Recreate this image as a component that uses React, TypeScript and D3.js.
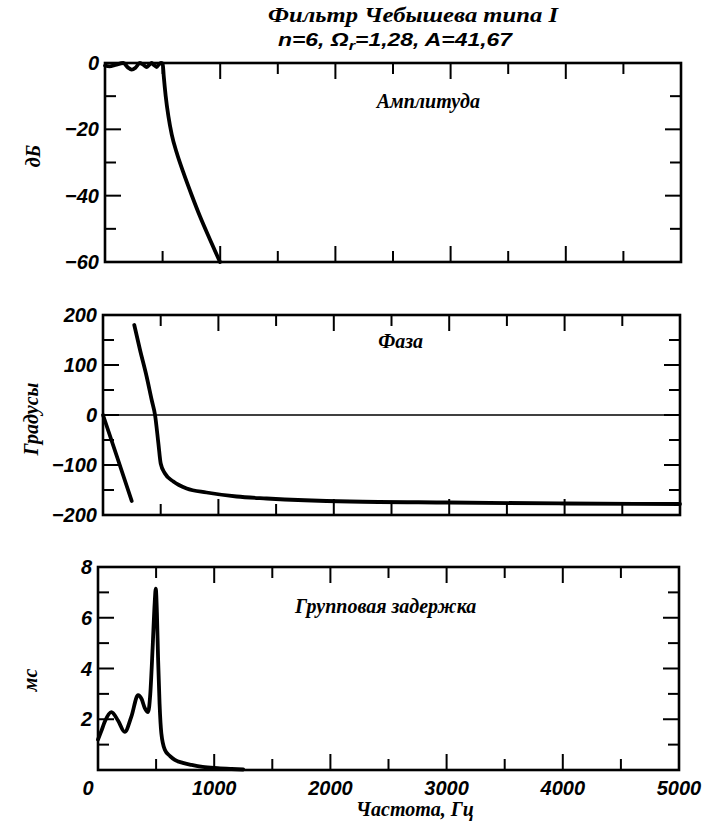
import React from "react";
import * as d3 from "d3";

// ---------- data ----------
const ampFreq = [0, 40, 90, 159, 200, 231, 265, 303, 335, 361, 385, 405, 425, 448, 468, 485, 501, 510, 527, 550, 579, 622, 680, 752, 825, 911, 998];
const ampDb = [-0.8, -1.0, -0.6, 0, -1.4, -2.0, -1.4, 0, -0.6, -1.2, -0.5, 0, -0.6, -1.2, -0.4, 0, -0.2, -4, -10, -16, -21.5, -27, -33, -39.8, -46.3, -53.2, -60];

const phase1Freq = [0, 125, 249];
const phase1Deg = [0, -86, -172];

const phase2Freq = [271, 321, 378, 422, 451, 480, 500, 537, 610, 725, 898, 1158, 1418, 2140, 3000, 4000, 5000];
const phase2Deg = [180, 130, 77, 30, 0, -57, -97, -117, -133, -147, -155, -163, -167, -173, -175, -177, -178];

const delayFreq = [0, 30, 58, 115, 172, 230, 287, 345, 375, 402, 431, 450, 470, 488, 497, 507, 517, 530, 545, 575, 620, 661, 730, 805, 900, 1030, 1150, 1250];
const delayMs = [1.2, 1.55, 1.9, 2.28, 1.95, 1.5, 2.1, 2.95, 2.8, 2.45, 2.28, 3.0, 4.8, 6.6, 7.15, 6.2, 4.4, 2.6, 1.45, 0.8, 0.55, 0.4, 0.28, 0.2, 0.12, 0.07, 0.04, 0.02];

const freqTicks = [0, 500, 1000, 1500, 2000, 2500, 3000, 3500, 4000, 4500, 5000];
const freqLabels = [0, 1000, 2000, 3000, 4000, 5000];

const ampTicks = [0, -10, -20, -30, -40, -50, -60];
const ampLabels = [0, -20, -40, -60];
const phaseTicks = [200, 150, 100, 50, 0, -50, -100, -150, -200];
const phaseLabels = [200, 100, 0, -100, -200];
const delayTicks = [8, 7, 6, 5, 4, 3, 2, 1];
const delayLabels = [2, 4, 6, 8];

const titleLine1 = "Фильтр Чебышева типа I";
const yTitles = ["дБ", "Градусы", "мс"];
const panelTitles = ["Амплитуда", "Фаза", "Групповая задержка"];
const xTitle = "Частота, Гц";

// ---------- layout ----------
const W = 707;
const H = 825;
const SERIF = "'Liberation Serif', 'DejaVu Serif', serif";
const SANS = "'Liberation Sans', Arial, sans-serif";

type Box = { l: number; r: number; t: number; b: number };
const P1: Box = { l: 105, r: 681, t: 63, b: 262 };
const P2: Box = { l: 103, r: 680, t: 315, b: 515 };
const P3: Box = { l: 98, r: 679, t: 567, b: 770 };

const fmt = (v: number) => (v < 0 ? "\u2212" + Math.abs(v) : String(v));

function Frame({
  box,
  yScale,
  yTicks,
  yMajor,
  yLabels,
  xScale,
}: {
  box: Box;
  yScale: d3.ScaleLinear<number, number>;
  yTicks: number[];
  yMajor: (v: number) => boolean;
  yLabels: number[];
  xScale: d3.ScaleLinear<number, number>;
}) {
  const MAJ = 16;
  const MIN = 11;
  return (
    <g>
      {freqTicks.map((f) => {
        const x = xScale(f);
        if (f === 0 || f === 5000) return null;
        const len = f % 1000 === 0 ? MAJ : MIN;
        return (
          <g key={"xt" + f} stroke="#000" strokeWidth={2}>
            <line x1={x} x2={x} y1={box.t} y2={box.t + len} />
            <line x1={x} x2={x} y1={box.b} y2={box.b - len} />
          </g>
        );
      })}
      {yTicks.map((v) => {
        const y = yScale(v);
        const len = yMajor(v) ? MAJ : MIN;
        return (
          <g key={"yt" + v} stroke="#000" strokeWidth={2}>
            <line x1={box.l} x2={box.l + len} y1={y} y2={y} />
            <line x1={box.r} x2={box.r - len} y1={y} y2={y} />
          </g>
        );
      })}
      <rect x={box.l} y={box.t} width={box.r - box.l} height={box.b - box.t} fill="none" stroke="#000" strokeWidth={2.6} />
      {yLabels.map((v) => (
        <text
          key={"yl" + v}
          x={box.l - 6}
          y={yScale(v)}
          textAnchor="end"
          dominantBaseline="central"
          fontFamily={SANS}
          fontStyle="italic"
          fontWeight="bold"
          fontSize={20}
        >
          {fmt(v)}
        </text>
      ))}
    </g>
  );
}

export default function App() {
  const x1 = d3.scaleLinear().domain([0, 5000]).range([P1.l, P1.r]);
  const x2 = d3.scaleLinear().domain([0, 5000]).range([P2.l, P2.r]);
  const x3 = d3.scaleLinear().domain([0, 5000]).range([P3.l, P3.r]);
  const y1 = d3.scaleLinear().domain([-60, 0]).range([P1.b, P1.t]);
  const y2 = d3.scaleLinear().domain([-200, 200]).range([P2.b, P2.t]);
  const y3 = d3.scaleLinear().domain([0, 8]).range([P3.b, P3.t]);

  const mk = (xs: d3.ScaleLinear<number, number>, ys: d3.ScaleLinear<number, number>, fx: number[], fy: number[]) =>
    d3
      .line<number>()
      .x((_, i) => xs(fx[i]))
      .y((_, i) => ys(fy[i]))
      .curve(d3.curveMonotoneX)(fx) || "";

  const ampPath = mk(x1, y1, ampFreq, ampDb);
  const ph1Path = mk(x2, y2, phase1Freq, phase1Deg);
  const ph2Path = mk(x2, y2, phase2Freq, phase2Deg);
  const delPath = mk(x3, y3, delayFreq, delayMs);

  const curveStyle = { fill: "none", stroke: "#000", strokeWidth: 3.8, strokeLinejoin: "round" as const, strokeLinecap: "round" as const };

  const labelProps = { fontFamily: SERIF, fontStyle: "italic", fontWeight: "bold", fontSize: 20 };

  return (
    <svg width={W} height={H} viewBox={`0 0 ${W} ${H}`} style={{ position: "absolute", left: 0, top: 0, background: "#fff" }}>
      <rect x={0} y={0} width={W} height={H} fill="#fff" />

      {/* title */}
      <text x={268} y={22} textLength={290} lengthAdjust="spacingAndGlyphs" {...labelProps} fontSize={20}>
        {titleLine1}
      </text>
      <text x={278} y={46} fontFamily={SANS} fontStyle="italic" fontWeight="bold" fontSize={18} textLength={234} lengthAdjust="spacingAndGlyphs">
        n=6, Ω<tspan fontSize={13} dy={4}>r</tspan>
        <tspan dy={-4}>=1,28, A=41,67</tspan>
      </text>

      {/* Panel 1 */}
      <Frame box={P1} yScale={y1} yTicks={ampTicks} yMajor={(v) => v % 20 === 0} yLabels={ampLabels} xScale={x1} />
      <path d={ampPath} style={curveStyle} />
      <text x={480} y={108} textAnchor="end" {...labelProps}>
        {panelTitles[0]}
      </text>

      {/* Panel 2 */}
      <line x1={P2.l} x2={P2.r} y1={y2(0)} y2={y2(0)} stroke="#000" strokeWidth={1.4} />
      <Frame box={P2} yScale={y2} yTicks={phaseTicks} yMajor={(v) => v % 100 === 0} yLabels={phaseLabels} xScale={x2} />
      <path d={ph1Path} style={curveStyle} />
      <path d={ph2Path} style={curveStyle} />
      <text x={423} y={348} textAnchor="end" {...labelProps}>
        {panelTitles[1]}
      </text>

      {/* Panel 3 */}
      <Frame box={P3} yScale={y3} yTicks={delayTicks} yMajor={(v) => v % 2 === 0} yLabels={delayLabels} xScale={x3} />
      <path d={delPath} style={curveStyle} />
      <text x={295} y={613} {...labelProps}>
        {panelTitles[2]}
      </text>

      {/* x tick labels */}
      {freqLabels.map((f) => (
        <text
          key={"xl" + f}
          x={x3(f) - (f === 0 ? 10 : 0)}
          y={795}
          textAnchor="middle"
          fontFamily={SANS}
          fontStyle="italic"
          fontWeight="bold"
          fontSize={20}
        >
          {f}
        </text>
      ))}
      <text x={415} y={816} textAnchor="middle" {...labelProps}>
        {xTitle}
      </text>

      {/* y titles */}
      <text transform="translate(33,156) rotate(-90)" textAnchor="middle" dominantBaseline="central" {...labelProps}>
        {yTitles[0]}
      </text>
      <text transform="translate(31,419) rotate(-90)" textAnchor="middle" dominantBaseline="central" {...labelProps}>
        {yTitles[1]}
      </text>
      <text transform="translate(30,680) rotate(-90)" textAnchor="middle" dominantBaseline="central" {...labelProps}>
        {yTitles[2]}
      </text>
    </svg>
  );
}
